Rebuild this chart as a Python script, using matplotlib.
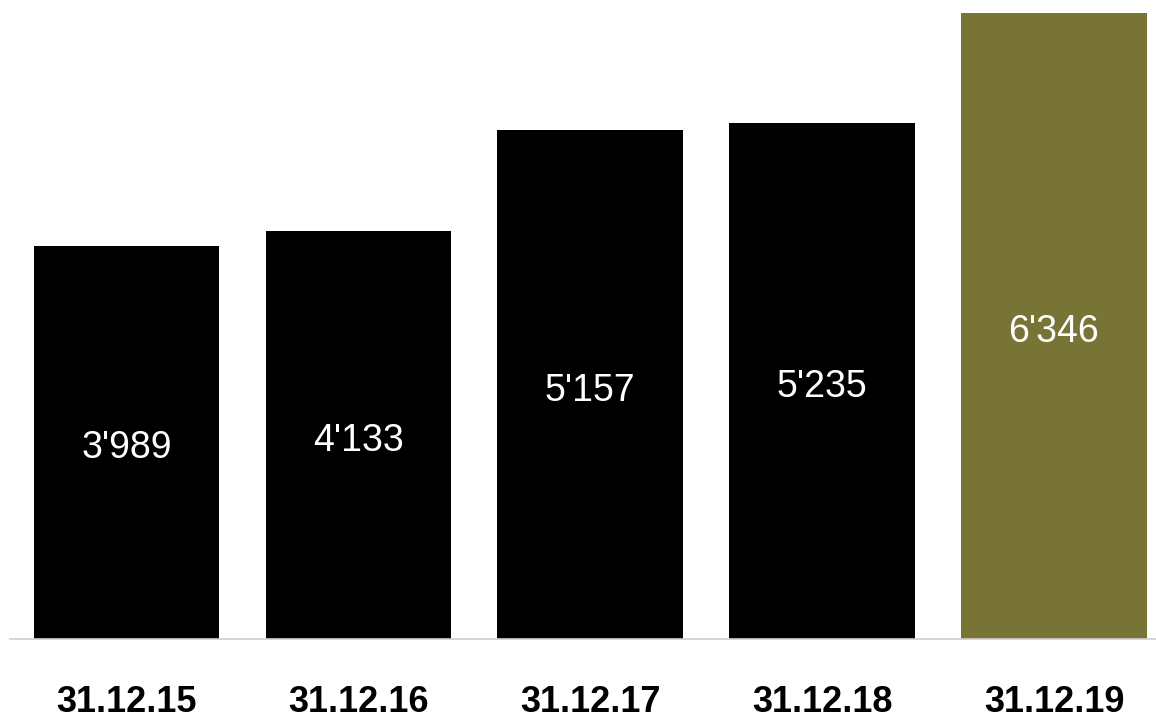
import matplotlib
matplotlib.use('Agg')
import matplotlib.pyplot as plt

# Daten
dates = ['31.12.15', '31.12.16', '31.12.17', '31.12.18', '31.12.19']
values = [3989, 4133, 5157, 5235, 6346]
value_labels = ["3'989", "4'133", "5'157", "5'235", "6'346"]
bar_colors = ['#000000', '#000000', '#000000', '#000000', '#787436']

plt.rcParams['font.family'] = ['Liberation Sans', 'DejaVu Sans']

fig = plt.figure(figsize=(11.56, 7.19), dpi=100)
ax = fig.add_axes([10 / 1156, 80 / 719, 1146 / 1156, 626 / 719])

x = list(range(len(dates)))
ax.bar(x, values, width=0.8, color=bar_colors)

# Werte mittig in die Balken
for i, v in enumerate(values):
    ax.annotate(value_labels[i], (i, v / 2), xytext=(0, -6), textcoords='offset pixels',
                ha='center', va='center', color='white', fontsize=27)

ax.set_xlim(-0.502, 4.44)
ax.set_ylim(0, 6346)
ax.set_xticks(x)
ax.set_xticklabels(dates, fontsize=26, fontweight='bold')
ax.tick_params(axis='x', length=0, pad=33)
ax.set_yticks([])

for s in ['top', 'right', 'left']:
    ax.spines[s].set_visible(False)
ax.spines['bottom'].set_color('#d0d0d0')
ax.spines['bottom'].set_linewidth(1.2)

fig.savefig('out.png', dpi=100)
